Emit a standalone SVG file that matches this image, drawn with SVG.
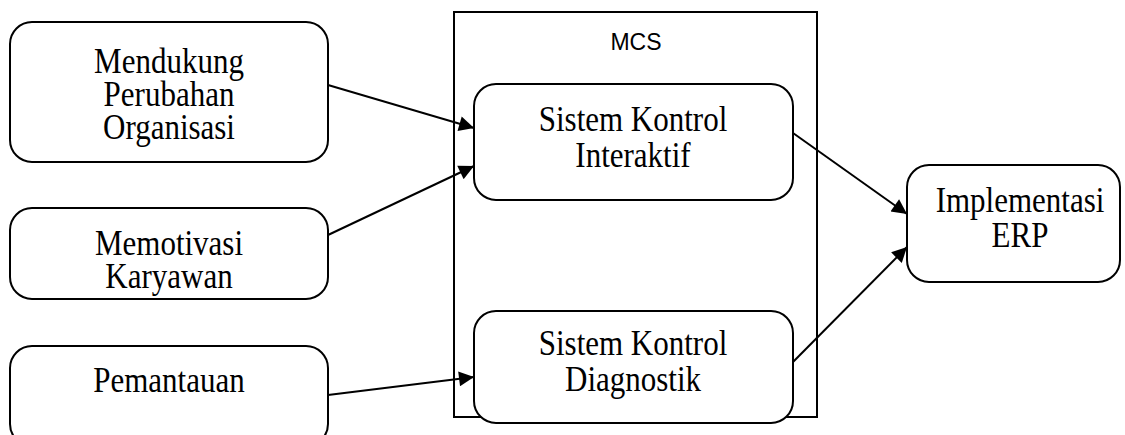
<svg xmlns="http://www.w3.org/2000/svg" width="1125" height="435" viewBox="0 0 1125 435">
  <style>
    .box { fill: #ffffff; stroke: #000000; stroke-width: 2; }
    .frame { fill: none; stroke: #000000; stroke-width: 2; }
    .lbl { font-family: "Liberation Serif", "Times New Roman", serif; font-size: 31px; fill: #000000; text-anchor: middle; }
    .title { font-family: "Liberation Sans", Arial, sans-serif; font-size: 23px; fill: #000000; text-anchor: middle; }
    .link { stroke: #000000; stroke-width: 2; fill: none; marker-end: url(#head); }
  </style>
  <defs>
    <marker id="head" viewBox="0 0 10 10" refX="10" refY="5" markerUnits="userSpaceOnUse" markerWidth="17" markerHeight="15" orient="auto">
      <path d="M0,0 L10,5 L0,10 Z" fill="#000000"/>
    </marker>
  </defs>

  <rect width="1125" height="435" fill="#ffffff"/>

  <!-- MCS container -->
  <g id="mcs">
    <rect class="frame" x="454" y="12" width="363" height="405"/>
    <text class="title" x="636" y="50">MCS</text>
  </g>

  <!-- labels are drawn slightly taller than wide -->
  <g id="mendukung">
    <rect class="box" x="10" y="22" width="318" height="140" rx="22"/>
    <text class="lbl" transform="translate(169,73) scale(1,1.13)">Mendukung</text>
    <text class="lbl" transform="translate(169,106) scale(1,1.13)">Perubahan</text>
    <text class="lbl" transform="translate(169,139) scale(1,1.13)">Organisasi</text>
  </g>

  <g id="memotivasi">
    <rect class="box" x="10" y="208" width="318" height="91" rx="22"/>
    <text class="lbl" transform="translate(169,255) scale(1,1.13)">Memotivasi</text>
    <text class="lbl" transform="translate(169,288) scale(1,1.13)">Karyawan</text>
  </g>

  <g id="pemantauan">
    <rect class="box" x="10" y="346" width="318" height="100" rx="22"/>
    <text class="lbl" transform="translate(169,392) scale(1,1.13)">Pemantauan</text>
  </g>

  <g id="interaktif">
    <rect class="box" x="474" y="84" width="319" height="116" rx="22"/>
    <text class="lbl" transform="translate(633,131) scale(1,1.13)">Sistem Kontrol</text>
    <text class="lbl" transform="translate(633,167) scale(1,1.13)">Interaktif</text>
  </g>

  <g id="diagnostik">
    <rect class="box" x="474" y="311" width="319" height="112" rx="22"/>
    <text class="lbl" transform="translate(633,355) scale(1,1.13)">Sistem Kontrol</text>
    <text class="lbl" transform="translate(633,391) scale(1,1.13)">Diagnostik</text>
  </g>

  <g id="erp">
    <rect class="box" x="907" y="165" width="213" height="117" rx="22"/>
    <text class="lbl" transform="translate(1020,212) scale(1,1.13)">Implementasi</text>
    <text class="lbl" transform="translate(1020,247) scale(1,1.13)">ERP</text>
  </g>

  <!-- connectors -->
  <g id="connectors">
    <line class="link" x1="328" y1="85" x2="474" y2="128"/>
    <line class="link" x1="328" y1="235" x2="474" y2="166"/>
    <line class="link" x1="328" y1="395" x2="474" y2="377"/>
    <line class="link" x1="793" y1="133" x2="907" y2="214"/>
    <line class="link" x1="793" y1="362" x2="907" y2="247"/>
  </g>
</svg>
